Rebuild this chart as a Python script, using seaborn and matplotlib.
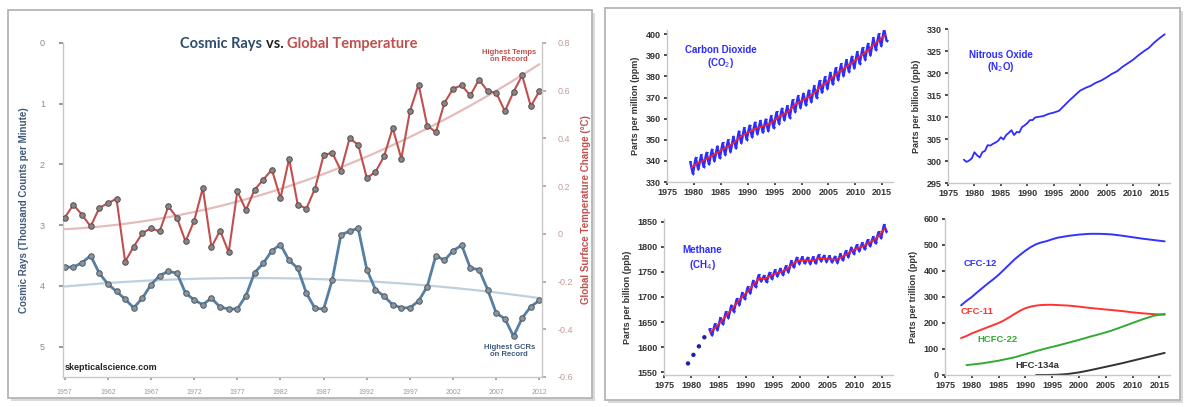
import numpy as np
import pandas as pd
import matplotlib
matplotlib.use("Agg")
import matplotlib.pyplot as plt
import seaborn as sns
from matplotlib.patches import FancyBboxPatch

# ---------------- data: left panel ----------------
years = list(range(1957, 2013))
temp = [0.068, 0.122, 0.080, 0.031, 0.108, 0.129, 0.147, -0.116, -0.053, 0.003,
        0.024, 0.010, 0.115, 0.068, -0.032, 0.055, 0.192, -0.056, 0.014, -0.077,
        0.178, 0.100, 0.185, 0.227, 0.269, 0.150, 0.315, 0.122, 0.106, 0.190,
        0.330, 0.340, 0.265, 0.400, 0.374, 0.234, 0.259, 0.325, 0.444, 0.315,
        0.514, 0.626, 0.454, 0.426, 0.549, 0.609, 0.622, 0.580, 0.647, 0.598,
        0.591, 0.514, 0.595, 0.664, 0.535, 0.598]
gcr = [3.69, 3.69, 3.62, 3.50, 3.79, 3.97, 4.09, 4.22, 4.36, 4.20,
       3.98, 3.83, 3.76, 3.79, 4.12, 4.23, 4.31, 4.20, 4.35, 4.38,
       4.38, 4.16, 3.78, 3.63, 3.42, 3.32, 3.58, 3.71, 4.12, 4.37,
       4.38, 3.90, 3.16, 3.10, 3.05, 3.73, 4.06, 4.17, 4.31, 4.36,
       4.36, 4.25, 4.01, 3.50, 3.58, 3.42, 3.33, 3.71, 3.73, 4.06,
       4.45, 4.54, 4.83, 4.53, 4.34, 4.24]
left_xticks = [1957, 1962, 1967, 1972, 1977, 1982, 1987, 1992, 1997, 2002, 2007, 2012]
gcr_ticks = [0, 1, 2, 3, 4, 5]
temp_ticks = [-0.6, -0.4, -0.2, 0, 0.2, 0.4, 0.6, 0.8]
temp_ticklabels = ["-0.6", "-0.4", "-0.2", "0", "0.2", "0.4", "0.6", "0.8"]

# ---------------- data: CO2 ----------------
co2_years = list(range(1979, 2016))
co2_mean = [336.7, 338.7, 339.9, 341.1, 342.6, 344.1, 345.7, 347.0, 348.7, 351.2,
            352.8, 354.0, 355.4, 356.2, 356.9, 358.4, 360.3, 362.0, 363.2, 366.0,
            367.9, 369.1, 370.6, 372.6, 375.1, 376.9, 379.0, 381.1, 383.0, 385.0,
            386.6, 388.8, 390.7, 392.7, 395.3, 397.2, 399.6]
co2_hi = [339.4, 341.4, 342.6, 343.8, 345.3, 346.8, 348.4, 349.7, 351.4, 353.9,
          355.5, 356.7, 358.1, 358.9, 359.6, 361.1, 363.0, 364.7, 365.9, 368.7,
          370.6, 371.8, 373.3, 375.3, 377.8, 379.6, 381.7, 383.8, 385.7, 387.7,
          389.3, 391.5, 393.4, 395.4, 398.0, 399.9, 402.3]
co2_lo = [334.0, 336.0, 337.2, 338.4, 339.9, 341.4, 343.0, 344.3, 346.0, 348.5,
          350.1, 351.3, 352.7, 353.5, 354.2, 355.7, 357.6, 359.3, 360.5, 363.3,
          365.2, 366.4, 367.9, 369.9, 372.4, 374.2, 376.3, 378.4, 380.3, 382.3,
          383.9, 386.1, 388.0, 390.0, 392.6, 394.5, 396.9]

# ---------------- data: N2O ----------------
n2o_t = [1978, 1978.5, 1979, 1979.5, 1980, 1980.5, 1981, 1981.5, 1982, 1982.5,
         1983, 1983.5, 1984, 1984.5, 1985, 1985.5, 1986, 1986.5, 1987, 1987.5,
         1988, 1988.5, 1989, 1989.5, 1990, 1990.5, 1991, 1991.5, 1992, 1993,
         1994, 1995, 1996, 1997, 1998, 1999, 2000, 2001, 2002, 2003,
         2004, 2005, 2006, 2007, 2008, 2009, 2010, 2011, 2012, 2013,
         2014, 2015, 2016]
n2o_v = [300.3, 299.8, 300.1, 300.6, 302.0, 301.3, 300.8, 302.0, 302.3, 303.6,
         303.5, 303.9, 304.2, 304.6, 305.4, 304.9, 305.9, 306.4, 307.0, 305.9,
         306.6, 306.5, 307.7, 308.1, 308.6, 309.3, 309.3, 309.9, 310.0, 310.2,
         310.7, 311.0, 311.4, 312.6, 313.8, 314.9, 316.0, 316.6, 317.1, 317.8,
         318.3, 319.0, 319.8, 320.4, 321.4, 322.2, 323.0, 324.0, 324.9, 325.7,
         326.9, 327.9, 328.8]

# ---------------- data: CH4 ----------------
ch4_early_t = [1979.4, 1980.4, 1981.4, 1982.4]
ch4_early_v = [1568, 1585, 1602, 1620]
ch4_years = list(range(1983, 2016))
ch4_mean = [1630, 1640, 1652, 1664, 1677, 1690, 1702, 1713, 1726, 1737,
            1736, 1742, 1747, 1750, 1755, 1765, 1772, 1773, 1772, 1773,
            1777, 1776, 1775, 1774, 1779, 1785, 1792, 1797, 1801, 1807,
            1813, 1823, 1836]
ch4_hi = [1636, 1646, 1658, 1670, 1683, 1696, 1708, 1719, 1732, 1743,
          1742, 1748, 1753, 1756, 1761, 1771, 1778, 1779, 1778, 1779,
          1783, 1782, 1781, 1780, 1785, 1791, 1798, 1803, 1807, 1813,
          1819, 1829, 1843]
ch4_lo = [1624, 1634, 1646, 1658, 1671, 1684, 1696, 1707, 1720, 1731,
          1730, 1736, 1741, 1744, 1749, 1759, 1766, 1767, 1766, 1767,
          1771, 1770, 1769, 1768, 1773, 1779, 1786, 1791, 1795, 1801,
          1807, 1817, 1830]

# ---------------- data: halocarbons ----------------
cfc_years = [1978, 1979, 1980, 1981, 1982, 1983, 1984, 1985, 1986, 1987, 1988, 1989,
             1990, 1991, 1992, 1993, 1994, 1995, 1996, 1998, 2000, 2002, 2004, 2006,
             2008, 2010, 2012, 2014, 2016]
cfc12 = [268, 285, 300, 318, 335, 352, 368, 385, 405, 425, 445, 462,
         478, 492, 503, 510, 515, 522, 528, 535, 540, 543, 543, 541,
         536, 530, 524, 519, 514]
cfc11 = [142, 150, 160, 168, 176, 184, 192, 200, 210, 222, 235, 247,
         257, 263, 267, 269, 270, 270, 269, 267, 263, 258, 254, 250,
         246, 241, 237, 234, 232]
hcfc22_years = [1979, 1982, 1985, 1988, 1990, 1992, 1994, 1996, 1998, 2000, 2002, 2004,
                2006, 2008, 2010, 2012, 2014, 2016]
hcfc22 = [38, 45, 55, 68, 80, 92, 103, 113, 124, 135, 147, 158, 170, 185, 200, 215, 228, 235]
hfc_years = [1992, 1994, 1996, 1998, 2000, 2002, 2004, 2006, 2008, 2010, 2012, 2014, 2016]
hfc134a = [0, 0, 1, 4, 10, 18, 27, 36, 45, 55, 65, 75, 85]

right_xticks = [1975, 1980, 1985, 1990, 1995, 2000, 2005, 2010, 2015]

# ---------------- style ----------------
sns.set_theme(style="white")
plt.rcParams["font.family"] = ["Liberation Sans", "DejaVu Sans"]

W, H = 1187, 407
fig = plt.figure(figsize=(W / 100, H / 100), dpi=100)
fig.patch.set_facecolor("white")


def fbox(x0, y0, x1, y1):
    # pixel coords (top-left origin) -> figure fraction rect
    return [x0 / W, 1 - y1 / H, (x1 - x0) / W, (y1 - y0) / H]


# panel frames with soft shadow (drawn beneath the axes)
for (x0, y0, x1, y1) in [(8, 10, 592, 398), (605, 8, 1180, 400)]:
    r = fbox(x0, y0, x1, y1)
    sh = FancyBboxPatch((r[0] + 3 / W, r[1] - 3 / H), r[2], r[3],
                        boxstyle="square,pad=0", transform=fig.transFigure,
                        facecolor="#d9d9d9", edgecolor="none", zorder=-3)
    fr = FancyBboxPatch((r[0], r[1]), r[2], r[3], boxstyle="square,pad=0",
                        transform=fig.transFigure, facecolor="white",
                        edgecolor="#b5b5b5", linewidth=1.3, zorder=-2)
    fig.patches.append(sh)
    fig.patches.append(fr)

# ---------------- left panel ----------------
blue = "#557fa3"
red = "#c0504d"
ax = fig.add_axes(fbox(63, 43, 542, 377))
ax.set_facecolor("none")
sns.regplot(x=years, y=gcr, order=2, scatter=False, ci=None, ax=ax,
            line_kws=dict(color="#bcd0df", lw=1.6))
sns.lineplot(x=years, y=gcr, ax=ax, color=blue, lw=2.0, marker="o", markersize=4.0,
             markerfacecolor="#8a949c", markeredgecolor="#4d5a66", markeredgewidth=0.7)
ax.set_ylim(5.5, 0)
ax.set_xlim(1956.8, 2012.3)
ax.set_yticks(gcr_ticks)
ax.set_yticklabels([str(t) for t in gcr_ticks])
ax.set_xticks(left_xticks)
ax.set_xticklabels([str(t) for t in left_xticks])
ax.tick_params(axis="y", colors="#8a8a8a", labelsize=6.5, length=3, pad=10, left=True)
ax.tick_params(axis="x", colors="#9a9a9a", labelsize=5, length=2.5, pad=6, bottom=True)
ax.set_ylabel("Cosmic Rays (Thousand Counts per Minute)", color="#3e5a78",
              fontsize=7, fontweight="bold", labelpad=8)
ax.set_xlabel("")
for s in ["top", "right"]:
    ax.spines[s].set_visible(False)
for s in ["left", "bottom"]:
    ax.spines[s].set_color("#c8c8c8")
    ax.spines[s].set_linewidth(1.0)

ax2 = ax.twinx()
sns.regplot(x=years, y=temp, order=2, scatter=False, ci=None, ax=ax2,
            line_kws=dict(color="#e5bcbb", lw=1.6))
sns.lineplot(x=years, y=temp, ax=ax2, color=red, lw=1.5, marker="o", markersize=4.0,
             markerfacecolor="#8a8585", markeredgecolor="#5a4a4a", markeredgewidth=0.7)
ax2.set_ylim(-0.6, 0.8)
ax2.set_xlim(1956.8, 2012.3)
ax2.set_yticks(temp_ticks)
ax2.set_yticklabels(temp_ticklabels)
ax2.tick_params(axis="y", colors="#c49a9a", labelsize=6.5, length=3, pad=8, right=True)
ax2.set_ylabel("Global Surface Temperature Change (°C)", color=red,
               fontsize=7, fontweight="bold", labelpad=6)
for s in ["top", "left", "bottom"]:
    ax2.spines[s].set_visible(False)
ax2.spines["right"].set_color("#c8c8c8")
ax2.spines["right"].set_linewidth(1.0)

ax2.text(2008.5, 0.745, "Highest Temps\non Record", color=red, fontsize=5.5,
         fontweight="bold", ha="center", va="center", linespacing=0.95)
ax2.text(2008.5, -0.49, "Highest GCRs\non Record", color="#3e5a78", fontsize=5.5,
         fontweight="bold", ha="center", va="center", linespacing=0.95)
ax.text(0.004, 0.015, "skepticalscience.com", transform=ax.transAxes, fontsize=6.5,
        fontweight="bold", color="#222222", ha="left", va="bottom")

# two-coloured title
tfont = dict(fontsize=10.5, fontweight="bold", family=["Lato", "DejaVu Sans"])
ty = 1 - 44 / H
t1 = fig.text(180 / W, ty, "Cosmic Rays ", color="#2f4b6e", ha="left",
              va="center", **tfont)
t2 = fig.text(0, ty, "vs. ", color="#222222", va="center", **tfont)
t3 = fig.text(0, ty, "Global Temperature", color=red, va="center", **tfont)
fig.canvas.draw()
rend = fig.canvas.get_renderer()
bb1 = t1.get_window_extent(rend)
t2.set_position((bb1.x1 / fig.bbox.width, ty))
fig.canvas.draw()
bb2 = t2.get_window_extent(rend)
t3.set_position((bb2.x1 / fig.bbox.width, ty))

# ---------------- right panels ----------------
pblue = "#2d2dff"


def style_small(a, ylim, yticks, ylabel):
    a.set_xlim(1975, 2017)
    a.set_ylim(*ylim)
    a.set_xticks(right_xticks)
    a.set_xticklabels([str(t) for t in right_xticks])
    a.set_yticks(yticks)
    a.set_yticklabels([str(t) for t in yticks])
    a.tick_params(axis="both", labelsize=6.5, colors="#333333", length=2.5,
                  left=True, bottom=True, pad=2)
    for lab in a.get_xticklabels() + a.get_yticklabels():
        lab.set_fontweight("bold")
    a.set_ylabel(ylabel, fontsize=6.5, fontweight="bold", color="#333333", labelpad=4)
    a.set_xlabel("")
    for s in ["top", "right"]:
        a.spines[s].set_visible(False)
    for s in ["left", "bottom"]:
        a.spines[s].set_color("#c8c8c8")
        a.spines[s].set_linewidth(1.0)
    a.set_facecolor("none")


# CO2
ax_co2 = fig.add_axes(fbox(667, 30, 893, 182))
co2_seas = pd.DataFrame({
    "t": [y + 0.35 for y in co2_years] + [y + 0.8 for y in co2_years],
    "v": co2_hi + co2_lo}).sort_values("t")
sns.lineplot(data=co2_seas, x="t", y="v", ax=ax_co2, color=pblue, lw=1.8,
             marker="v", markersize=2.2, markeredgewidth=0, estimator=None)
sns.lineplot(x=[y + 0.5 for y in co2_years], y=co2_mean, ax=ax_co2, color="#ff2020", lw=1.2)
style_small(ax_co2, (330, 402), [330, 340, 350, 360, 370, 380, 390, 400],
            "Parts per million (ppm)")
ax_co2.text(1985, 392.3, "Carbon Dioxide", color=pblue, fontsize=7, fontweight="bold",
            ha="center", va="center")
ax_co2.text(1985, 386.6, "(CO$_2$)", color=pblue, fontsize=7, fontweight="bold",
            ha="center", va="center")

# N2O
ax_n2o = fig.add_axes(fbox(948, 29, 1170, 183))
sns.lineplot(x=n2o_t, y=n2o_v, ax=ax_n2o, color=pblue, lw=1.3)
style_small(ax_n2o, (295, 330), [295, 300, 305, 310, 315, 320, 325, 330],
            "Parts per billion (ppb)")
ax_n2o.text(1985, 324.2, "Nitrous Oxide", color=pblue, fontsize=7, fontweight="bold",
            ha="center", va="center")
ax_n2o.text(1985, 321.4, "(N$_2$O)", color=pblue, fontsize=7, fontweight="bold",
            ha="center", va="center")

# CH4
ax_ch4 = fig.add_axes(fbox(664, 219, 893, 375))
sns.scatterplot(x=ch4_early_t, y=ch4_early_v, ax=ax_ch4, color="#2020a0", s=10,
                edgecolor="none")
ch4_seas = pd.DataFrame({
    "t": [y + 0.35 for y in ch4_years] + [y + 0.8 for y in ch4_years],
    "v": ch4_hi + ch4_lo}).sort_values("t")
sns.lineplot(data=ch4_seas, x="t", y="v", ax=ax_ch4, color=pblue, lw=1.8,
             marker="v", markersize=2.2, markeredgewidth=0, estimator=None)
sns.lineplot(x=[y + 0.5 for y in ch4_years], y=ch4_mean, ax=ax_ch4, color="#ff2020", lw=1.2)
style_small(ax_ch4, (1545, 1855), [1550, 1600, 1650, 1700, 1750, 1800, 1850],
            "Parts per billion (ppb)")
ax_ch4.text(1982, 1794, "Methane", color=pblue, fontsize=7, fontweight="bold",
            ha="center", va="center")
ax_ch4.text(1982, 1764, "(CH$_4$)", color=pblue, fontsize=7, fontweight="bold",
            ha="center", va="center")

# Halocarbons
ax_hal = fig.add_axes(fbox(945, 219, 1170, 375))
hal = pd.concat([
    pd.DataFrame({"t": cfc_years, "v": cfc12, "gas": "CFC-12"}),
    pd.DataFrame({"t": cfc_years, "v": cfc11, "gas": "CFC-11"}),
    pd.DataFrame({"t": hcfc22_years, "v": hcfc22, "gas": "HCFC-22"}),
    pd.DataFrame({"t": hfc_years, "v": hfc134a, "gas": "HFC-134a"}),
])
hal_pal = {"CFC-12": "#3333ff", "CFC-11": "#ff3333", "HCFC-22": "#33aa33", "HFC-134a": "#333333"}
sns.lineplot(data=hal, x="t", y="v", hue="gas", palette=hal_pal, ax=ax_hal, lw=1.4,
             legend=False)
style_small(ax_hal, (0, 600), [0, 100, 200, 300, 400, 500, 600],
            "Parts per trillion (ppt)")
for name, (tx, ty2) in {"CFC-12": (1981.6, 430), "CFC-11": (1980.9, 244),
                        "HCFC-22": (1984.8, 135), "HFC-134a": (1992.2, 38)}.items():
    ax_hal.text(tx, ty2, name, color=hal_pal[name], fontsize=6.8, fontweight="bold",
                ha="center", va="center")

fig.savefig("out.png", dpi=100)
